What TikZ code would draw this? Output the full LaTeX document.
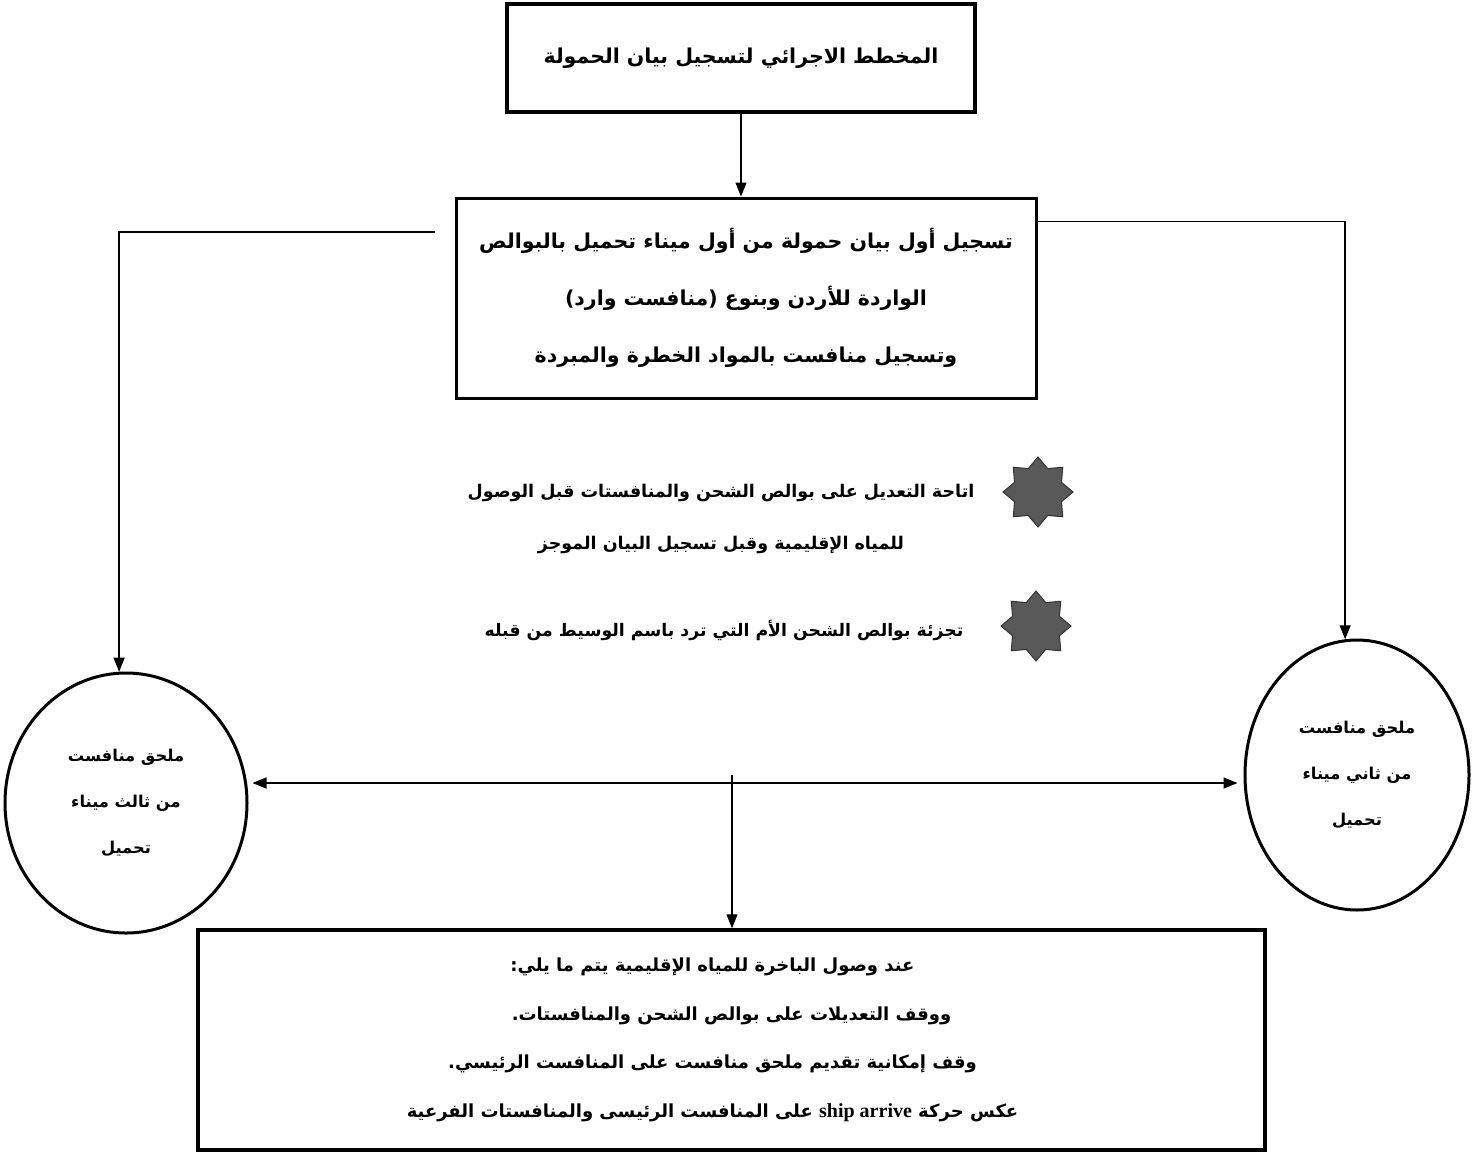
\documentclass[tikz,border=0pt]{standalone}
\usepackage{fontspec}
\setmainfont{Liberation Serif}
\newfontfamily\arabicfont[Script=Arabic]{DejaVu Sans}
\TeXXeTstate=1
\usetikzlibrary{arrows.meta,shapes.geometric,calc}
\newcommand{\arline}[1]{{\arabicfont\beginR #1\endR}}
\newcommand{\arshift}[1]{\hbox{\arline{#1}\kern38pt}}
\tikzset{
  thickbox/.style={draw, line width=3.5pt, rectangle, inner sep=0pt},
  arr/.style={line width=1.3pt, -{Triangle[length=14pt,width=11pt]}},
  dblarr/.style={line width=1.3pt, {Triangle[length=14pt,width=11pt]}-{Triangle[length=14pt,width=11pt]}},
  circ/.style={draw, line width=3pt, ellipse, inner sep=0pt, align=center, font=\arabicfont\bfseries\fontsize{16.3}{46}\selectfont},
  starmark/.style={star, star points=8, star point ratio=1.38, fill=black!65, draw=black!80, line width=1pt, minimum size=70pt, inner sep=0pt},
}
\begin{document}
\begin{tikzpicture}[x=1pt,y=-1pt]
\useasboundingbox[fill=white] (0,0) rectangle (1472,1152);

\node[thickbox, minimum width=468pt, minimum height=108pt, font=\bfseries\fontsize{20.5}{30}\selectfont] (title) at (741,58) {\arline{المخطط الاجرائي لتسجيل بيان الحمولة}};

\node[thickbox, line width=3pt, minimum width=580pt, minimum height=200pt, align=center, font=\bfseries\fontsize{20.5}{57}\selectfont] (reg) at (746,298)
  {\arline{تسجيل أول بيان حمولة من أول ميناء تحميل بالبوالص}\\
   \arline{الواردة للأردن وبنوع (منافست وارد)}\\
   \arline{وتسجيل منافست بالمواد الخطرة والمبردة}};

\node[starmark] (s1) at (1038,492) {};
\node[starmark] (s2) at (1036,626) {};
\node[align=center, font=\bfseries\fontsize{17.5}{52}\selectfont] (t1) at (721,519)
  {\arline{اتاحة التعديل على بوالص الشحن والمنافستات قبل الوصول}\\
   \arline{للمياه الإقليمية وقبل تسجيل البيان الموجز}};
\node[font=\bfseries\fontsize{17.3}{52}\selectfont] (t2) at (724,630)
  {\arline{تجزئة بوالص الشحن الأم التي ترد باسم الوسيط من قبله}};

\node[circ, minimum width=242pt, minimum height=260pt] (leftc) at (126,803)
  {\arline{ملحق منافست}\\ \arline{من ثالث ميناء}\\ \arline{تحميل}};
\node[circ, minimum width=224pt, minimum height=270pt] (rightc) at (1357,775)
  {\arline{ملحق منافست}\\ \arline{من ثاني ميناء}\\ \arline{تحميل}};

\node[thickbox, minimum width=1067pt, minimum height=220pt, align=center, font=\bfseries\fontsize{18}{48.5}\selectfont] (arrive) at (731.5,1040)
  {\arshift{عند وصول الباخرة للمياه الإقليمية يتم ما يلي:}\\
   \arline{ووقف التعديلات على بوالص الشحن والمنافستات.}\\
   \arshift{وقف إمكانية تقديم ملحق منافست على المنافست الرئيسي.}\\
   \arshift{عكس حركة \beginL{\rmfamily\fontsize{20}{48.5}\selectfont ship arrive}\endL{} على المنافست الرئيسى والمنافستات الفرعية}};

\coordinate (lstart) at (435,232);
\coordinate (hline) at (732,783);
\coordinate (vtop) at (732,775);

\draw[arr] (title.south) -- (title.south |- reg.north);
\draw[arr] (lstart) -| (leftc.93);
\draw[arr] ($(reg.north east)+(0,25)$) -| (rightc.95);
\draw[dblarr, shorten <=4pt, shorten >=6pt] (leftc.east |- hline) -- (rightc.west |- hline);
\draw[arr] (vtop) -- (vtop |- arrive.north);
\end{tikzpicture}
\end{document}
